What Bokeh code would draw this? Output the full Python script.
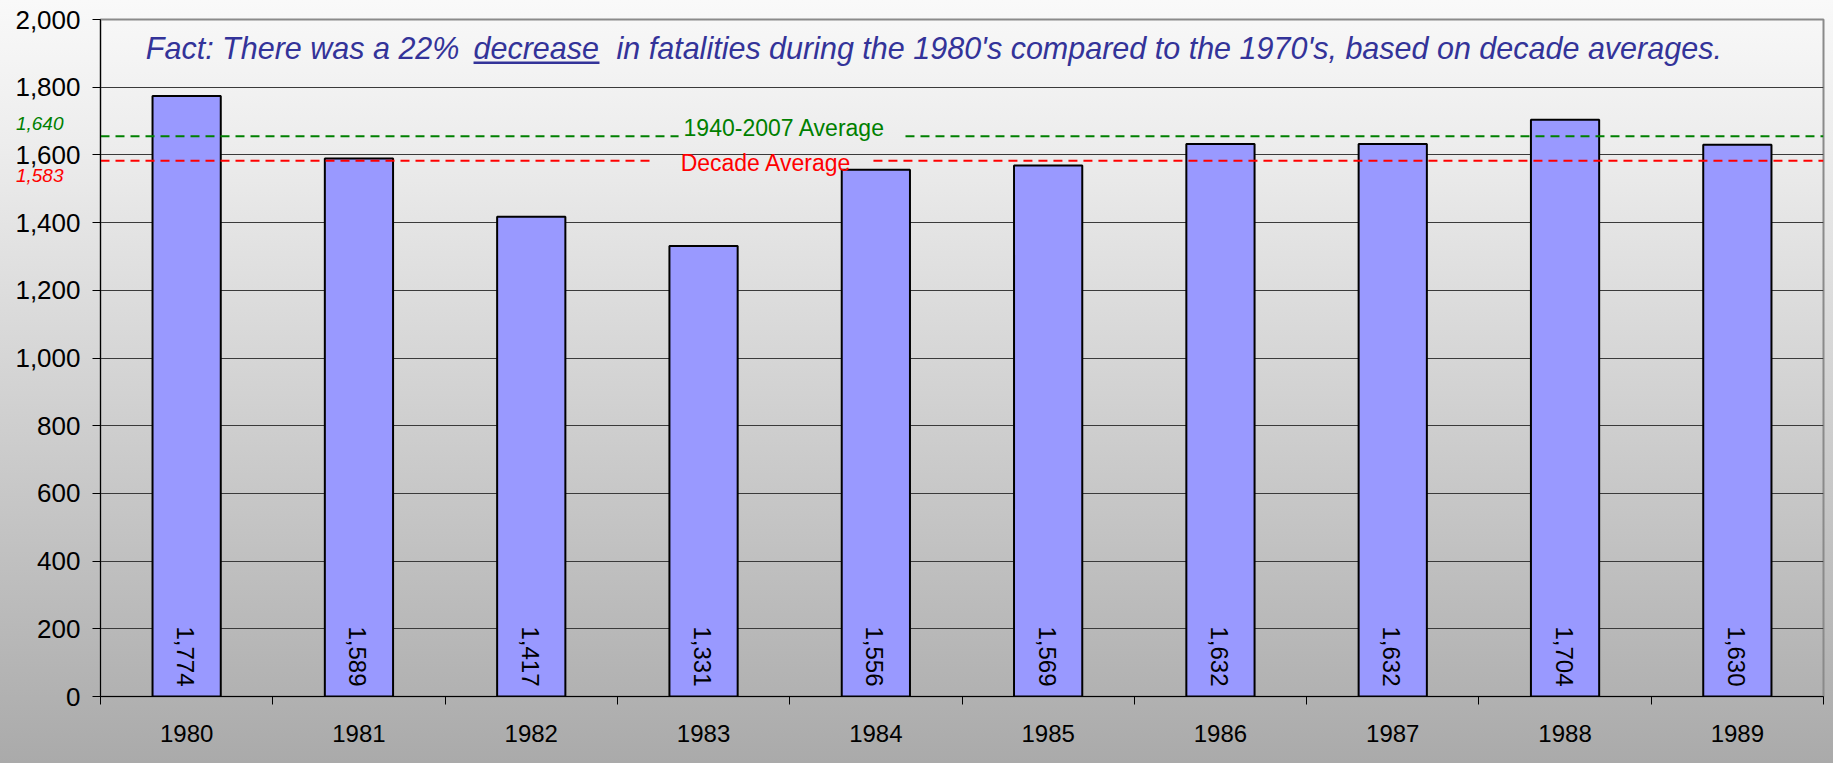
import math
from bokeh.plotting import figure
from bokeh.models import (Range1d, FixedTicker, SingleIntervalTicker, NumeralTickFormatter, Label,
                          LinearAxis)
from bokeh.core.properties import value
from bokeh.embed import file_html
from bokeh.resources import INLINE

# ---- data ----
years = ["1980", "1981", "1982", "1983", "1984", "1985", "1986", "1987", "1988", "1989"]
fatalities = [1774, 1589, 1417, 1331, 1556, 1569, 1632, 1632, 1704, 1630]
long_term_avg_label = "1,640"
long_term_avg_line = 1655
decade_avg = 1583
decade_avg_label = "1,583"
y_ticks_interval = 200
title_parts = ["Fact: There was a 22%", "decrease",
               "in fatalities during the 1980's compared to the 1970's, based on decade averages."]

FONT = "Liberation Sans"
n = len(years)
centers = [i + 0.5 for i in range(n)]

p = figure(width=1833, height=763, output_backend="svg", toolbar_location=None,
           x_range=Range1d(0, n), y_range=Range1d(0, 2000),
           min_border_left=100, min_border_right=10, min_border_top=19, min_border_bottom=67)
p.background_fill_color = None
p.border_fill_color = None
p.styles = {"background": "linear-gradient(180deg, #f9f9f9 0%, #ececec 20%, #aaaaaa 100%)"}
p.outline_line_color = "#8a8a8a"
p.outline_line_width = 2

# grid
p.xgrid.grid_line_color = None
p.ygrid.grid_line_color = "#3a3a3a"
p.ygrid.grid_line_width = 1
p.ygrid.ticker = SingleIntervalTicker(interval=y_ticks_interval, num_minor_ticks=0)

# y axis
ya = p.yaxis[0]
ya.ticker = SingleIntervalTicker(interval=y_ticks_interval, num_minor_ticks=0)
ya.formatter = NumeralTickFormatter(format="0,0")
ya.axis_line_color = "black"
ya.major_tick_out = 8
ya.major_tick_in = 0
ya.minor_tick_line_color = None
ya.major_label_standoff = 12
ya.major_label_text_font = FONT
ya.major_label_text_font_size = "26px"
ya.major_label_text_color = "black"

# x axis
xa = p.xaxis[0]
xa.ticker = FixedTicker(ticks=centers, minor_ticks=list(range(n + 1)))
xa.major_label_overrides = {c: y for c, y in zip(centers, years)}
xa.axis_line_color = "black"
xa.major_tick_out = 0
xa.major_tick_in = 0
xa.minor_tick_out = 8
xa.minor_tick_in = 0
xa.minor_tick_line_color = "black"
xa.major_label_standoff = 20
xa.major_label_text_font = FONT
xa.major_label_text_font_size = "24px"
xa.major_label_text_color = "black"

# side value labels of the two averages: label-only axes tucked into the left margin
def side_label_axis(pos, text, color):
    ax = LinearAxis(ticker=FixedTicker(ticks=[pos]), major_label_overrides={pos: text})
    ax.axis_line_color = None
    ax.major_tick_line_color = None
    ax.minor_tick_line_color = None
    ax.major_tick_out = 0
    ax.major_tick_in = 0
    ax.major_label_standoff = -51
    ax.major_label_text_font = FONT
    ax.major_label_text_font_size = "19px"
    ax.major_label_text_font_style = "italic"
    ax.major_label_text_color = color
    p.add_layout(ax, "left")

side_label_axis(long_term_avg_line + 37, long_term_avg_label, "#008000")
side_label_axis(decade_avg - 45, decade_avg_label, "#ff0000")

# bars
p.vbar(x=centers, top=fatalities, width=0.396, fill_color="#9999ff",
       line_color="black", line_width=2)

# value labels inside bars (rotated)
p.text(x=centers, y=[0] * n, text=[f"{v:,}" for v in fatalities], angle=-math.pi / 2,
       text_align="right", text_baseline="middle", y_offset=-10, x_offset=-1,
       text_font=value(FONT), text_font_size="24px", text_color="black")

# average lines with gaps for their labels
g_gap = (3.355, 4.672)
r_gap = (3.21, 4.486)
p.segment(x0=[0, g_gap[1]], x1=[g_gap[0], n], y0=[long_term_avg_line] * 2, y1=[long_term_avg_line] * 2,
          line_color="#008000", line_width=2, line_dash="9 6")
p.segment(x0=[0, r_gap[1]], x1=[r_gap[0], n], y0=[decade_avg] * 2, y1=[decade_avg] * 2,
          line_color="#ff0000", line_width=2, line_dash="9 6")

p.add_layout(Label(x=3.384, y=long_term_avg_line, y_offset=8, text="1940-2007 Average",
                   text_align="left", text_baseline="alphabetic", text_font=FONT,
                   text_font_size="23px", text_color="#008000"))
p.add_layout(Label(x=3.367, y=decade_avg, y_offset=-2, text="Decade Average", text_align="left",
                   text_baseline="alphabetic", text_font=FONT, text_font_size="23px",
                   text_color="#ff0000"))

# title (fact) text
title_x = [0.263, 2.165, 2.995]
title_y = 1884
for tx, tt in zip(title_x, title_parts):
    p.add_layout(Label(x=tx, y=title_y, y_offset=11, text=tt, text_align="left",
                       text_baseline="alphabetic", text_font=FONT, text_font_size="30.5px",
                       text_font_style="italic", text_color="#333399"))
p.segment(x0=[2.165], x1=[2.896], y0=[1872], y1=[1872], line_color="#333399", line_width=2.5)

open("out.html", "w").write(file_html(p, INLINE))
